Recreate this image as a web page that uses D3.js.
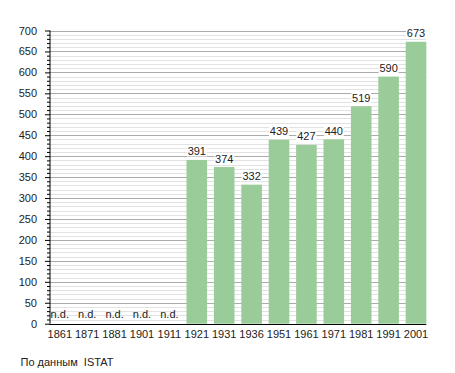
<!DOCTYPE html>
<html><head><meta charset="utf-8">
<script src="https://cdn.jsdelivr.net/npm/d3@7"></script>
<style>body{margin:0;background:#fff}svg{display:block}text{font-family:"Liberation Sans",Arial,sans-serif}</style>
</head><body>
<svg id="c" width="455" height="373"></svg>
<script>
const years = ["1861","1871","1881","1901","1911","1921","1931","1936","1951","1961","1971","1981","1991","2001"];
const values = [null,null,null,null,null,391,374,332,439,427,440,519,590,673];
const yTicks = [0,50,100,150,200,250,300,350,400,450,500,550,600,650,700];
const noteText = "n.d.";
const sourceText = "По данным  ISTAT";

const svg = d3.select("#c");
const x0 = 49.5, step = 27.4, barW = 20.6;
const x = d3.scaleBand().domain(years).range([x0, x0 + step*years.length]).paddingInner(0).paddingOuter(0);
const y = d3.scaleLinear().domain([0,700]).range([323.7, 30.5]);
const right = x0 + step*(years.length-1) + barW;

// minor grid
const minor = d3.range(0, 701, 10).filter(v => v % 50 !== 0);
svg.append("g").selectAll("line").data(minor).join("line")
  .attr("x1", x0).attr("x2", right).attr("y1", d=>Math.round(y(d))+0.5).attr("y2", d=>Math.round(y(d))+0.5)
  .attr("stroke", "#e2e2e2").attr("stroke-width", 1);
svg.append("g").selectAll("line").data(yTicks.filter(d=>d>0)).join("line")
  .attr("x1", x0).attr("x2", right).attr("y1", d=>Math.round(y(d))+0.5).attr("y2", d=>Math.round(y(d))+0.5)
  .attr("stroke", "#ababab").attr("stroke-width", 1);

// bars
const bars = years.map((yr,i)=>({yr, v: values[i]}));
svg.append("g").selectAll("rect").data(bars.filter(d=>d.v!=null)).join("rect")
  .attr("x", d=>x(d.yr)).attr("width", barW)
  .attr("y", d=>y(d.v)).attr("height", d=>y(0)-y(d.v))
  .attr("fill", "#99cc99");

// value labels with white background
const lg = svg.append("g").selectAll("g").data(bars.filter(d=>d.v!=null)).join("g")
  .attr("transform", d=>`translate(${x(d.yr)+barW/2},${y(d.v)-4.5})`);
lg.append("rect").attr("x",-10).attr("y",-9).attr("width",20).attr("height",10).attr("fill","#fff");
lg.append("text").attr("text-anchor","middle").attr("font-size",11).attr("fill","#222").text(d=>d.v);

// n.d. labels
svg.append("g").selectAll("text").data(bars.filter(d=>d.v==null)).join("text")
  .attr("x", d=>x(d.yr)+barW/2).attr("y", 317.5).attr("text-anchor","middle")
  .attr("font-size",11).attr("fill","#222").text(noteText);

// y axis
const yAxis = d3.axisLeft(y).tickValues(yTicks).tickSize(5).tickPadding(8).tickSizeOuter(0);
const gy = svg.append("g").attr("transform", `translate(${x0+0.5},0)`).call(yAxis);
gy.selectAll("text").attr("font-size",11).attr("fill","#222").style("font-family",'"Liberation Sans",Arial,sans-serif');
gy.selectAll("line, path").attr("stroke","#000");
gy.select(".domain").attr("d", `M0,${y(700)}V${y(0)}`);
const yMinor = d3.axisLeft(y).tickValues(minor).tickSize(3).tickFormat("");
const gym = svg.append("g").attr("transform", `translate(${x0+0.5},0)`).call(yMinor);
gym.select(".domain").remove();
gym.selectAll("line").attr("stroke","#000");

// x axis
const xAxis = d3.axisBottom(x).tickSize(0).tickPadding(6).tickFormat(d=>d);
const gx = svg.append("g").attr("transform", `translate(0,${Math.round(y(0))+0.5})`).call(xAxis);
gx.selectAll(".tick").attr("transform", d=>`translate(${x(d)+barW/2},0)`);
gx.selectAll("text").attr("font-size",11).attr("fill","#222").style("font-family",'"Liberation Sans",Arial,sans-serif');
gx.select(".domain").attr("d", `M${x0},0H${right}`).attr("stroke","#000");

svg.append("text").attr("x",20.5).attr("y",366).attr("font-size",11).attr("fill","#222")
  .attr("xml:space","preserve").style("white-space","pre").text(sourceText);
</script>
</body></html>
